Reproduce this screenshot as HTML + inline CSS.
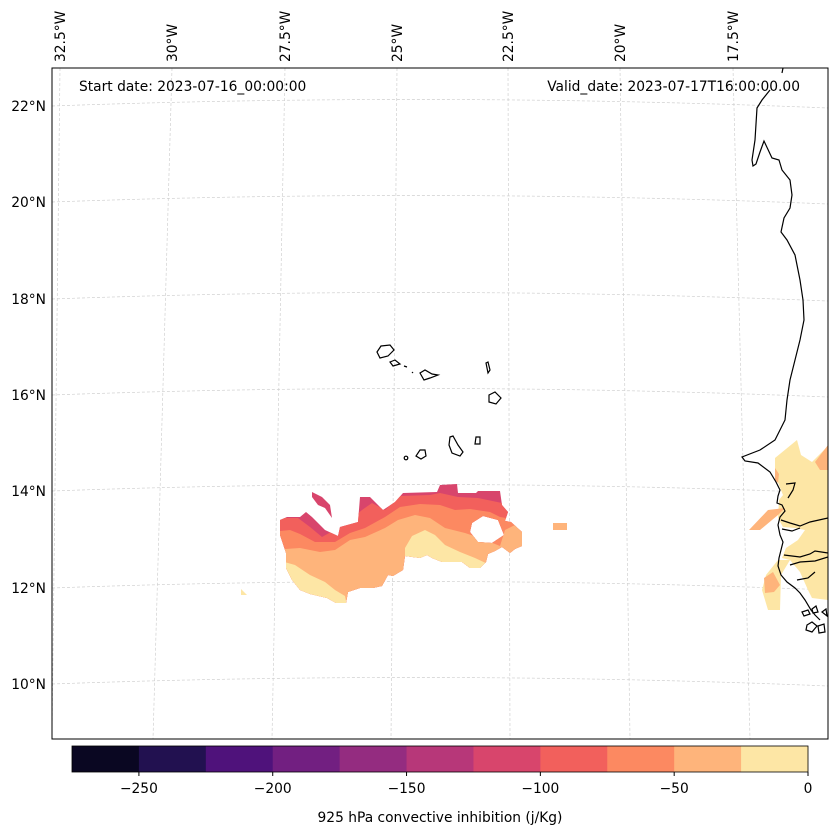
<!DOCTYPE html>
<html><head><meta charset="utf-8"><style>
html,body{margin:0;padding:0;background:#fff;}
svg{display:block;font-family:"DejaVu Sans","Liberation Sans",sans-serif;}
</style></head><body>
<svg id="chart" width="837" height="836" viewBox="0 0 837 836" xmlns="http://www.w3.org/2000/svg">
<defs>
<clipPath id="mapclip"><rect x="52" y="68" width="776" height="671"/></clipPath>
<clipPath id="envclip"><path d="M280,520 L287,517 L300,517 L306,512 L312,517 L325,530 L338,536 L340,527 L358,522 L360,497 L370,497 L383,510 L395,502 L403,493 L437,492 L440,485 L457,484 L458,493 L476,493 L478,491 L500,491 L502,505 L508,512 L505,521 L511,522 L522,532 L522,546 L515,549 L510,553 L502,547 L495,551 L488,554 L486,562 L480,568 L470,568 L462,562 L442,562 L432,558 L427,555 L420,558 L405,556 L403,570 L393,576 L388,575 L382,586 L373,588 L360,588 L348,592 L346,603 L336,603 L327,598 L310,594 L300,590 L292,580 L286,568 L286,553 L280,535 Z M472,523 L483,516 L498,520 L504,535 L492,543 L478,542 L470,532 Z" clip-rule="evenodd"/></clipPath>
</defs>
<g id="grid" fill="none" stroke="#d0d0d0" stroke-width="0.7" stroke-dasharray="3,2" clip-path="url(#mapclip)"></g>
<g id="fills" clip-path="url(#mapclip)">
 <g clip-path="url(#envclip)">
  <rect x="270" y="480" width="260" height="130" fill="#d8456c"/>
  <path d="M270,518 L298,518 L310,527 L322,537 L345,524 L362,510 L372,503 L385,510 L400,496 L430,495 L440,493 L458,497 L478,498 L502,503 L530,508 L530,620 L270,620 Z" fill="#f2605c"/>
  <path d="M270,532 L290,530 L300,534 L315,542 L335,542 L350,533 L365,528 L385,517 L400,507 L420,504 L440,505 L455,510 L470,509 L490,512 L500,517 L530,522 L530,620 L270,620 Z" fill="#fc8961"/>
  <path d="M270,550 L300,548 L320,552 L335,550 L350,540 L365,537 L385,528 L398,520 L415,515 L430,518 L445,528 L465,533 L480,538 L500,546 L505,530 L515,525 L530,530 L530,620 L270,620 Z" fill="#feb47b"/>
  <path d="M270,558 L295,565 L310,575 L325,582 L335,590 L345,596 L350,620 L270,620 Z" fill="#fde6a5"/>
  <path d="M405,548 L412,536 L425,530 L435,535 L445,545 L460,552 L475,558 L490,565 L480,572 L460,570 L440,566 L420,560 L405,556 Z" fill="#fde6a5"/>
 </g>
 <path d="M312,492 L322,497 L330,505 L332,518 L325,508 L318,505 L312,497 Z" fill="#d8456c"/>
 <path d="M241,589 L247,595 L241,595 Z" fill="#fde6a5"/>
 <rect x="553" y="523" width="14" height="7" fill="#feb47b"/>
 <path d="M775,458 L797,440 L801,455 L812,462 L826,448 L828,448 L828,600 L812,598 L808,590 L800,572 L790,560 L782,558 L786,548 L798,540 L805,530 L795,528 L783,527 L778,518 L779,500 L783,495 L775,475 Z" fill="#fde6a5"/>
 <path d="M766,575 L778,560 L790,560 L781,575 L780,610 L768,610 L762,590 Z" fill="#fde6a5"/>
 <path d="M749,530 L768,510 L785,508 L778,515 L760,530 Z M764,578 L773,572 L780,585 L774,592 L765,593 Z M815,462 L828,445 L828,470 L820,470 Z M775,468 L779,474 L778,483 L775,480 Z" fill="#feb47b"/>
</g>
<g id="coast" fill="none" stroke="#000" stroke-width="1.2" clip-path="url(#mapclip)">
 <path d="M783,68 L782,73 M770,90 L762,100 L757,108 L755,140 L752,160 L753,166 L756,164 L760,152 L764,141 L772,158 L779,160 L782,170 L790,180 L792,195 L790,208 L784,218 L781,232 L787,240 L795,255 L800,280 L803,300 L804,320 L800,340 L795,360 L790,380 L787,400 L785,420 L775,440 L760,450 L742,457 L745,461 L758,463 L770,472 L776,482 L780,490 L778,496 L777,503 L782,505 L785,511 L780,517 L778,525 L780,535 L783,542 L781,550 L779,558 L778,566 L781,575 L787,582 L795,588 L800,593 L805,600 L811,610 L815,615 L820,620"/>
 <path d="M786,484 L795,483 L793,490 L788,498 M781,520 L790,523 L800,526 L810,522 L828,518 M782,529 L792,531 L800,528 M784,555 L800,557 L810,554 L815,551 L828,553 M790,565 L800,562 L815,561 L828,557 M797,580 L808,578 L815,572"/>
 <path d="M802,612 L808,610 L810,614 L804,616 Z M812,609 L816,606 L818,612 L813,613 Z M807,625 L812,622 L817,626 L812,632 L806,630 Z M818,626 L824,624 L825,632 L819,633 Z M822,612 L826,609 L827,616 Z"/>
 <g>
 <path d="M377,352 L381,346 L390,345 L394,350 L388,356 L380,358 Z"/>
 <path d="M390,362 L395,360 L400,364 L393,366 Z"/>
 <path d="M404,366 L407,367 M412,372 L413,373"/>
 <path d="M420,373 L425,370 L432,374 L438,375 L430,378 L424,380 Z"/>
 <path d="M486,363 L488,362 L490,370 L488,373 Z"/>
 <path d="M489,395 L495,392 L501,398 L496,404 L489,402 Z"/>
 <path d="M450,437 L453,436 L458,445 L463,452 L460,456 L452,453 L449,445 Z"/>
 <path d="M476,437 L480,437 L480,444 L475,444 Z"/>
 <path d="M420,450 L425,450 L426,456 L421,459 L416,456 Z"/>
 <circle cx="406" cy="458" r="1.8"/>
 </g>
</g>
<rect x="52" y="68" width="776" height="671" fill="none" stroke="#000" stroke-width="1"/>
<g id="lonlabels" font-size="13.8" fill="#000"></g>
<g id="latlabels" font-size="13.8" fill="#000" text-anchor="end"></g>
<text x="79" y="91" font-size="13.8">Start date: 2023-07-16_00:00:00</text>
<text x="800" y="91" font-size="13.8" text-anchor="end">Valid_date: 2023-07-17T16:00:00.00</text>
<g id="cbar"></g>
<text x="440" y="822" font-size="13.8" text-anchor="middle">925 hPa convective inhibition (j/Kg)</text>
</svg>
<script>
const levels = [-275,-250,-225,-200,-175,-150,-125,-100,-75,-50,-25,0];
const levelColors = ["#0a0722","#221150","#4f127b","#721f81","#942c80","#b73779","#d8456c","#f2605c","#fc8961","#feb47b","#fde6a5"];
const cbarTicks = [-250,-200,-150,-100,-50,0];
const cbarTickLabels = ["\u2212250","\u2212200","\u2212150","\u2212100","\u221250","0"];
const lonLabels = ["32.5°W","30°W","27.5°W","25°W","22.5°W","20°W","17.5°W"];
const lonTop = [60,172,285,397,508,620,733];
const lonBottom = [52,153,272,391,510,630,750];
const latValues = ["22°N","20°N","18°N","16°N","14°N","12°N","10°N"];
const latY = [106,202,299,395,491,588,684];
const NS="http://www.w3.org/2000/svg";
function mk(tag,attrs,parent){const e=document.createElementNS(NS,tag);for(const k in attrs)e.setAttribute(k,attrs[k]);parent.appendChild(e);return e;}
const grid=document.getElementById('grid');
for(let i=0;i<lonTop.length;i++){
 const p=mk('path',{d:`M${lonTop[i]},68 L${lonBottom[i]},739`},grid);
 
 
 const t=mk('text',{transform:`translate(${lonTop[i]+5},62) rotate(-90)`},document.getElementById('lonlabels'));
 t.textContent=lonLabels[i];
 
 
}
for(let i=0;i<latY.length;i++){
 const y=latY[i];
 const p=mk('path',{d:`M52,${y} Q440,${y-14} 828,${y+2}`},grid);
 
 
 const t=mk('text',{x:46,y:y+5},document.getElementById('latlabels'));
 t.textContent=latValues[i];
 
 
}
const cb=document.getElementById('cbar');
const cx0=72,cx1=808,cy=746,ch=26;
const vmin=levels[0],vmax=levels[levels.length-1];
function xs(v){return cx0+(v-vmin)/(vmax-vmin)*(cx1-cx0);}
for(let i=0;i<levelColors.length;i++){
 const r=mk('rect',{x:xs(levels[i]),y:cy,width:xs(levels[i+1])-xs(levels[i])+0.5,height:ch,fill:levelColors[i]},cb);
 
 
}
mk('rect',{x:cx0,y:cy,width:cx1-cx0,height:ch,fill:'none',stroke:'#000','stroke-width':0.8},cb);
for(let i=0;i<cbarTicks.length;i++){
 const x=xs(cbarTicks[i]);
 mk('line',{x1:x,x2:x,y1:cy+ch,y2:cy+ch+4,stroke:'#000'},cb);
 const t=mk('text',{x:x,y:793,'font-size':13.8,'text-anchor':'middle'},cb);
 t.textContent=cbarTickLabels[i];
 
 
}
</script>
</body></html>
